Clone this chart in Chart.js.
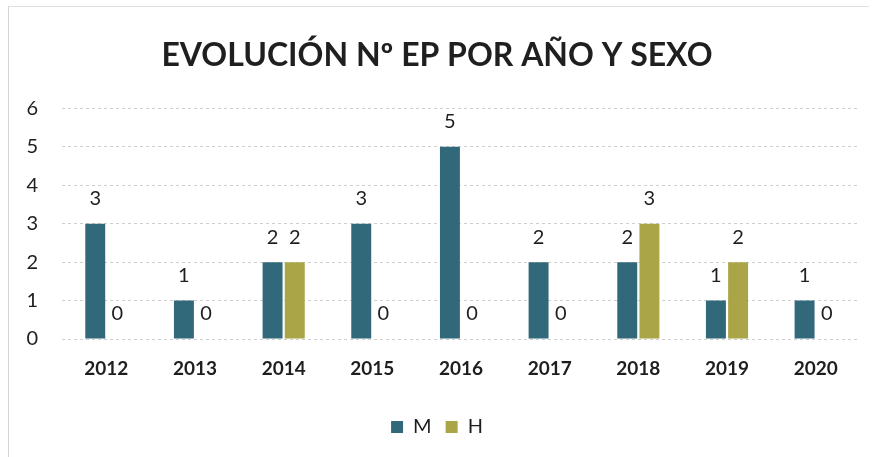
<!DOCTYPE html>
<html><head><meta charset="utf-8">
<script src="https://cdn.jsdelivr.net/npm/chart.js@4/dist/chart.umd.min.js"></script>
<style>
html,body{margin:0;padding:0;background:#fff;}
#wrap{position:relative;width:874px;height:457px;}
#frame{position:absolute;left:8px;top:6px;width:860px;height:460px;border-left:1px solid #d4d4d4;border-top:1px solid #e0e0e0;pointer-events:none;}
</style></head>
<body><div id="wrap"><canvas id="c" width="874" height="457"></canvas><div id="frame"></div></div>
<script>
const categories = ['2012','2013','2014','2015','2016','2017','2018','2019','2020'];
const seriesM = [3,1,2,3,5,2,2,1,1];
const seriesH = [0,0,2,0,0,0,3,2,0];
const yTicks = [0,1,2,3,4,5,6];
const titleText = 'EVOLUCIÓN Nº EP POR AÑO Y SEXO';

const valueLabels = {
  id:'valueLabels',
  afterDatasetsDraw(chart){
    const ctx = chart.ctx;
    ctx.save();
    ctx.font = '20px Lato, "Open Sans", sans-serif';
    ctx.fillStyle = '#1e1e1e';
    ctx.textAlign = 'center';
    ctx.textBaseline = 'middle';
    chart.data.datasets.forEach((ds,i)=>{
      chart.getDatasetMeta(i).data.forEach((el,j)=>{
        ctx.fillText(String(ds.data[j]), el.x, el.y - 25);
      });
    });
    ctx.restore();
  }
};

new Chart(document.getElementById('c'), {
  type:'bar',
  data:{
    labels: categories,
    datasets:[
      {label:'M', data: seriesM, backgroundColor:'#31687a'},
      {label:'H', data: seriesH, backgroundColor:'#aaa648'}
    ]
  },
  options:{
    responsive:false,
    animation:false,
    layout:{padding:{left:14,right:14,top:0,bottom:10}},
    datasets:{bar:{categoryPercentage:0.5,barPercentage:0.9}},
    plugins:{
      title:{display:true,text:titleText,color:'#1f1f1f',
        font:{family:'Lato, "Open Sans", sans-serif',size:32,weight:'bold'},
        padding:{top:36,bottom:34}},
      legend:{position:'bottom',
        labels:{boxWidth:12,boxHeight:12,color:'#1e1e1e',padding:14,
          font:{family:'Lato, "Open Sans", sans-serif',size:20}}},
      tooltip:{enabled:false}
    },
    scales:{
      x:{grid:{display:false},border:{display:false},
        afterFit(s){s.height=64;},
        ticks:{color:'#1e1e1e',padding:10,font:{family:'Lato, "Open Sans", sans-serif',size:19,weight:'bold'}}},
      y:{min:0,max:6,
        afterFit(s){s.width=48;},
        afterBuildTicks(s){s.ticks = yTicks.map(v=>({value:v}));},
        grid:{color:'#cfcfcf',drawTicks:false},
        border:{display:false,dash:[3,3]},
        ticks:{color:'#1e1e1e',padding:24,font:{family:'Lato, "Open Sans", sans-serif',size:20}}}
    }
  },
  plugins:[valueLabels]
});
</script></body></html>
